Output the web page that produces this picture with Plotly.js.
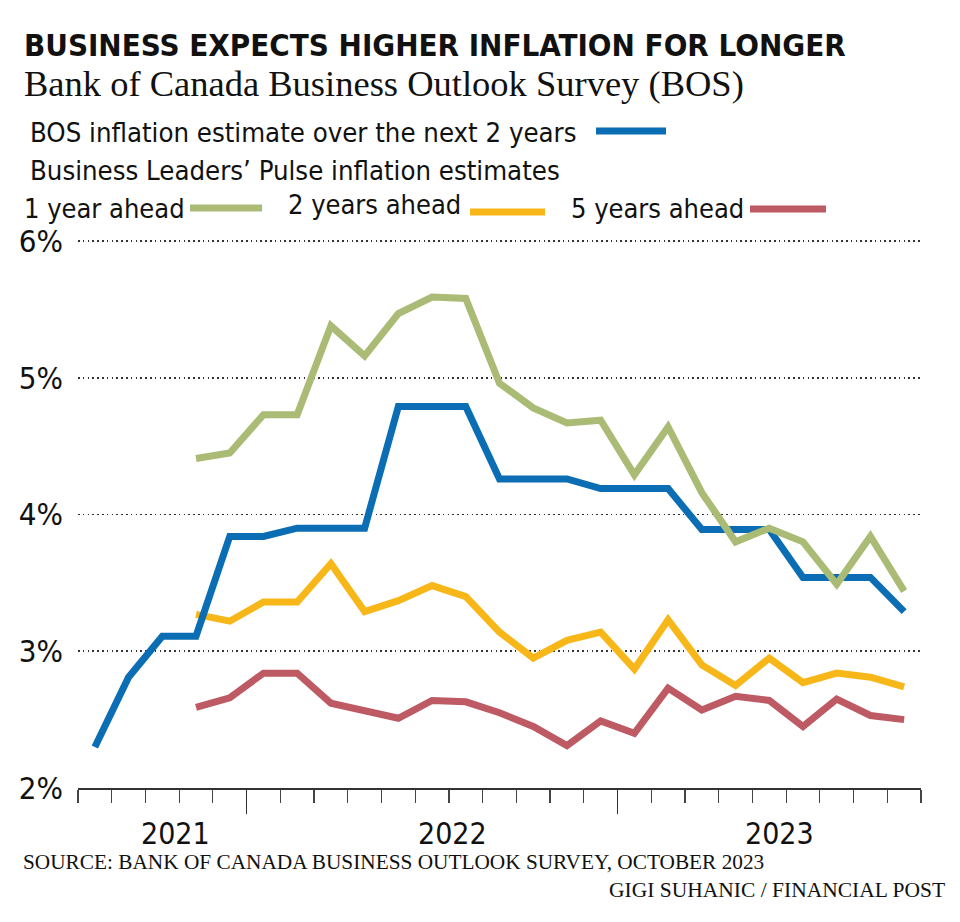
<!DOCTYPE html>
<html>
<head>
<meta charset="utf-8">
<script src="https://cdn.plot.ly/plotly-3.0.1.min.js"></script>
<style>html,body{margin:0;padding:0;background:#fff;}#chart{width:960px;height:922px;}</style>
</head>
<body>
<div id="chart"></div>
<script>
// ---- Data ----
const surveyRounds = ['R01','R02','R03','R04','R05','R06','R07','R08','R09','R10','R11','R12','R13',
                      'R14','R15','R16','R17','R18','R19','R20','R21','R22','R23','R24','R25'];
const bosTwoYear  = [2.30,2.81,3.11,3.11,3.84,3.84,3.90,3.90,3.90,4.79,4.79,4.79,4.26,4.26,4.26,4.19,4.19,4.19,3.89,3.89,3.89,3.54,3.54,3.54,3.29];
const blpOneYear  = [null,null,null,4.41,4.45,4.73,4.73,5.38,5.16,5.47,5.59,5.58,4.96,4.78,4.67,4.69,4.29,4.64,4.16,3.80,3.90,3.80,3.49,3.84,3.44];
const blpTwoYear  = [null,null,null,3.27,3.22,3.36,3.36,3.64,3.29,3.37,3.48,3.40,3.14,2.95,3.08,3.14,2.87,3.23,2.90,2.75,2.95,2.77,2.84,2.81,2.74];
const blpFiveYear = [null,null,null,2.59,2.66,2.84,2.84,2.62,2.56,2.51,2.64,2.63,2.55,2.45,2.31,2.49,2.40,2.73,2.57,2.67,2.64,2.45,2.65,2.53,2.50];
const seriesNames = ['BOS inflation estimate over the next 2 years','1 year ahead','2 years ahead','5 years ahead'];
const yearLabels  = ['2021','2022','2023'];
const yTickValues = [2,3,4,5,6];

const titleText    = 'BUSINESS EXPECTS HIGHER INFLATION FOR LONGER';
const subtitleText = 'Bank of Canada Business Outlook Survey (BOS)';
const groupText    = 'Business Leaders’ Pulse inflation estimates';
const sourceText   = 'SOURCE: BANK OF CANADA BUSINESS OUTLOOK SURVEY, OCTOBER 2023';
const creditText   = 'GIGI SUHANIC / FINANCIAL POST';

// ---- Styling ----
const NARROW = '"Liberation Sans Narrow", "Arial Narrow", "DejaVu Sans Condensed", sans-serif';
const SERIF  = '"Liberation Serif", "DejaVu Serif", serif';
const INK = '#111111';
const colBlue = '#0b6db3', colGreen = '#a9bb74', colYellow = '#f8b719', colRed = '#bd5a63';

const W = 960, H = 922;
const M = {l:78, r:39, t:238, b:134};
const PW = W - M.l - M.r, PH = H - M.t - M.b;
const px = x => (x - M.l) / PW;
const py = y => (H - M.b - y) / PH;

const xPos = surveyRounds.map((_, i) => i + 0.5);

function lineTrace(y, name, color) {
  return {x: xPos, y: y, name: name, type: 'scatter', mode: 'lines',
          line: {color: color, width: 7}, connectgaps: false, hoverinfo: 'skip'};
}

const traces = [
  lineTrace(blpFiveYear, seriesNames[3], colRed),
  lineTrace(blpTwoYear, seriesNames[2], colYellow),
  lineTrace(bosTwoYear, seriesNames[0], colBlue),
  lineTrace(blpOneYear, seriesNames[1], colGreen)
];

function txt(text, x, y, size, family, anchor, color) {
  return {text: text, xref: 'paper', yref: 'paper', x: px(x), y: py(y),
          xanchor: anchor || 'left', yanchor: 'middle', showarrow: false,
          font: {size: size, family: family, color: color || INK}};
}
function swatch(x0, x1, y, color) {
  return {type: 'line', xref: 'paper', yref: 'paper', x0: px(x0), x1: px(x1), y0: py(y), y1: py(y),
          line: {color: color, width: 7}};
}

const yearX = [2.9, 11.1, 20.8];
const annotations = [
  txt('<b>' + titleText + '</b>', 22, 45, 31, NARROW),
  txt(subtitleText, 22, 84, 36.5, SERIF),
  txt(seriesNames[0], 28, 132, 27.3, NARROW),
  txt(groupText, 28, 170, 27.3, NARROW),
  txt(seriesNames[1], 22, 208, 27, NARROW),
  txt(seriesNames[2], 286, 204, 27, NARROW),
  txt(seriesNames[3], 569, 208, 27, NARROW),
  txt(sourceText, 21, 862, 21.3, SERIF),
  txt(creditText, 947, 890, 21.5, SERIF, 'right')
].concat(yearLabels.map((t, i) => ({
  text: t, xref: 'x', yref: 'paper', x: yearX[i], y: 0, yshift: -45,
  xanchor: 'center', yanchor: 'middle', showarrow: false,
  font: {size: 30, family: NARROW, color: INK}
})));

const shapes = [
  swatch(596, 666, 131, colBlue),
  swatch(190, 262, 208, colGreen),
  swatch(470, 545, 212, colYellow),
  swatch(750, 826, 209, colRed)
];

const layout = {
  width: W, height: H, margin: M,
  paper_bgcolor: '#ffffff', plot_bgcolor: '#ffffff',
  showlegend: false,
  font: {family: NARROW, color: INK},
  xaxis: {
    range: [0, 25], fixedrange: true,
    showline: true, linecolor: '#333333', linewidth: 2,
    tickmode: 'array', tickvals: [5, 16], ticks: 'outside', ticklen: 24, tickwidth: 1.5, tickcolor: '#333333',
    showticklabels: false, showgrid: false, zeroline: false,
    minor: {tickmode: 'linear', tick0: 0, dtick: 1, ticks: 'outside', ticklen: 13, tickwidth: 1.2,
            tickcolor: '#444444', showgrid: false}
  },
  yaxis: {
    range: [2, 6.022], fixedrange: true,
    tickmode: 'array', tickvals: yTickValues, ticktext: yTickValues.map(v => v + '%'),
    ticks: '', ticklabelstandoff: 14,
    tickfont: {size: 31, family: NARROW, color: INK},
    showgrid: true, gridcolor: '#333333', gridwidth: 1.6, griddash: '1.6px,3.2px',
    zeroline: false, showline: false
  },
  annotations: annotations,
  shapes: shapes
};

Plotly.newPlot('chart', traces, layout, {staticPlot: true, displayModeBar: false});
</script>
</body>
</html>
